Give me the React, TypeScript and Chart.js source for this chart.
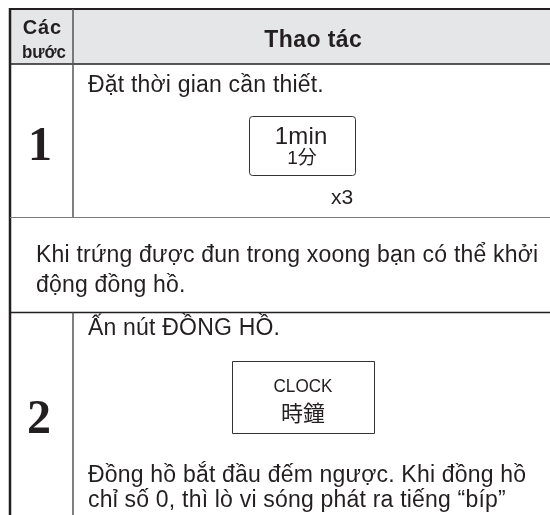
import React, { useEffect, useRef } from "react";
import { Chart, registerables } from "chart.js";

Chart.register(...registerables);

// ---- content ----
const headerStepLines = ["Các", "bước"];
const headerAction = "Thao tác";
const stepNumbers = ["1", "2"];
const step1Lines = ["Đặt thời gian cần thiết."];
const step1Button = ["1min", "1分"];
const step1Repeat = "x3";
const noteLines = [
  "Khi trứng được đun trong xoong bạn có thể khởi",
  "động đồng hồ.",
];
const step2Lines = ["Ấn nút ĐỒNG HỒ."];
const step2Button = ["CLOCK", "時鐘"];
const step2After = [
  "Đồng hồ bắt đầu đếm ngược. Khi đồng hồ",
  "chỉ số 0, thì lò vi sóng phát ra tiếng \u201Cbíp\u201D",
];

const W = 550;
const H = 515;
const INK = "#231f20";
const SANS = '"Liberation Sans", Arial, Helvetica, sans-serif';
const CJK = '"Noto Sans CJK JP", "Noto Sans CJK SC", sans-serif';
const SERIF = '"Liberation Serif", "Times New Roman", serif';

const tablePlugin = {
  id: "manualTable",
  afterDraw(chart: any) {
    const ctx: CanvasRenderingContext2D = chart.ctx;
    const xs = chart.scales.x;
    const ys = chart.scales.y;
    const X = (v: number) => xs.getPixelForValue(v);
    const Y = (v: number) => ys.getPixelForValue(v);

    const line = (x1: number, y1: number, x2: number, y2: number, w: number, c: string) => {
      ctx.save();
      ctx.strokeStyle = c;
      ctx.lineWidth = w;
      ctx.beginPath();
      ctx.moveTo(X(x1), Y(y1));
      ctx.lineTo(X(x2), Y(y2));
      ctx.stroke();
      ctx.restore();
    };
    const text = (
      s: string,
      x: number,
      y: number,
      font: string,
      align: "left" | "center",
      spacing = 0,
      maxW?: number
    ) => {
      ctx.save();
      ctx.fillStyle = INK;
      ctx.font = font;
      (ctx as any).letterSpacing = spacing + "px";
      ctx.textBaseline = "alphabetic";
      ctx.textAlign = "left";
      let w = ctx.measureText(s).width - spacing;
      if (maxW !== undefined && w > maxW) w = maxW;
      let px = X(x);
      if (align === "center") px = px - w / 2;
      if (maxW !== undefined) ctx.fillText(s, px, Y(y), maxW);
      else ctx.fillText(s, px, Y(y));
      ctx.restore();
    };

    ctx.save();
    // header background
    ctx.fillStyle = "#e5e6e8";
    ctx.fillRect(X(10), Y(9), X(W) - X(10), Y(64) - Y(9));
    ctx.restore();

    // lines
    line(9, 9, W, 9, 2, INK); // top border
    line(10, 8, 10, H, 2.5, INK); // left border
    line(10, 64, W, 64, 1.5, INK); // header bottom
    line(73, 9, 73, 217.5, 1.5, "#555"); // column divider (header + step 1)
    line(10, 217.5, W, 217.5, 1.2, "#7a7a7a"); // step 1 bottom
    line(10, 312.5, W, 312.5, 1.5, INK); // note bottom
    line(73, 312.5, 73, H, 1.5, "#555"); // column divider step 2

    // button boxes
    ctx.save();
    ctx.strokeStyle = "#333";
    ctx.lineWidth = 1;
    ctx.beginPath();
    (ctx as any).roundRect(X(249.5), Y(116.5), X(355.5) - X(249.5), Y(175.5) - Y(116.5), 3);
    ctx.stroke();
    ctx.beginPath();
    ctx.rect(X(232.5), Y(361.5), X(374.5) - X(232.5), Y(433.5) - Y(361.5));
    ctx.stroke();
    ctx.restore();

    // header text
    text(headerStepLines[0], 42, 33.5, `bold 20px ${SANS}`, "center", 0.8, 40);
    text(headerStepLines[1], 44, 57.5, `bold 18.5px ${SANS}`, "center", 0, 44);
    text(headerAction, 313, 46.5, `bold 23px ${SANS}`, "center", 0.4);

    // step numbers
    text(stepNumbers[0], 40, 160, `bold 48px ${SERIF}`, "center");
    text(stepNumbers[1], 39, 433, `bold 48px ${SERIF}`, "center");

    const body = `23px ${SANS}`;
    const sp = 0.2;
    // step 1
    step1Lines.forEach((s, i) => text(s, 88, 91.5 + i * 28, body, "left", sp));
    text(step1Button[0], 301, 143.5, `24px ${SANS}`, "center", 0.2);
    text(step1Button[1], 302, 164, `19px ${SANS}, ${CJK}`, "center");
    text(step1Repeat, 342, 203.5, `21px ${SANS}`, "center");

    // note
    noteLines.forEach((s, i) => text(s, 36, 261.5 + i * 30, body, "left", sp));

    // step 2
    step2Lines.forEach((s, i) => text(s, 88, 334.5 + i * 28, body, "left", sp));
    text(step2Button[0], 303, 391.5, `18px ${SANS}`, "center", 0, 59);
    text(step2Button[1], 303, 421, `22px ${CJK}`, "center");
    step2After.forEach((s, i) => text(s, 88, 481.5 + i * 25, body, "left", sp));
  },
};

export default function App() {
  const ref = useRef<HTMLCanvasElement | null>(null);
  useEffect(() => {
    if (!ref.current) return;
    const chart = new Chart(ref.current, {
      type: "scatter",
      data: { datasets: [] },
      options: {
        animation: false,
        responsive: false,
        events: [],
        layout: { padding: 0 },
        plugins: { legend: { display: false }, tooltip: { enabled: false } },
        scales: {
          x: { type: "linear", min: 0, max: W, display: false },
          y: { type: "linear", min: 0, max: H, reverse: true, display: false },
        },
      },
      plugins: [tablePlugin],
    } as any);
    return () => chart.destroy();
  }, []);
  return (
    <div style={{ position: "absolute", left: 0, top: 0, width: W, height: H, background: "#fff" }}>
      <canvas ref={ref} width={W} height={H} style={{ display: "block", width: W, height: H }} />
    </div>
  );
}
